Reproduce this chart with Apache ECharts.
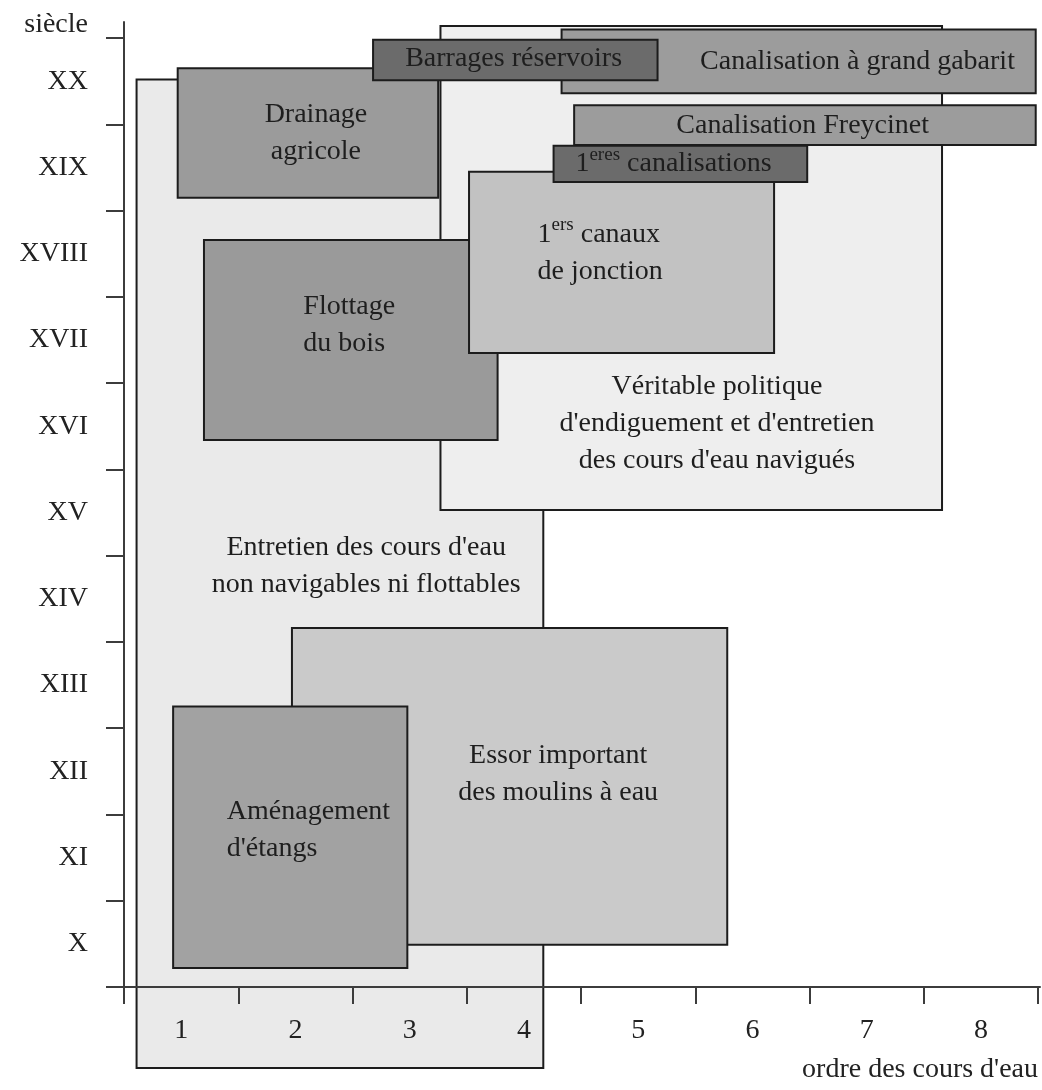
<!DOCTYPE html>
<html>
<head>
<meta charset="utf-8">
<script src="https://cdn.jsdelivr.net/npm/echarts@6/dist/echarts.min.js"></script>
<style>
  html, body { margin: 0; padding: 0; background: #fff; }
  #chart { width: 1042px; height: 1090px; }
</style>
</head>
<body>
<div id="chart"></div>
<script>
// axes
var ordres = [1, 2, 3, 4, 5, 6, 7, 8]
var siecles = ['X', 'XI', 'XII', 'XIII', 'XIV', 'XV', 'XVI', 'XVII', 'XVIII', 'XIX', 'XX']

// boxes, drawn in this order (last one on top)
var activites = [
  'Entretien des cours d\'eau\nnon navigables ni flottables',
  'Véritable politique\nd\'endiguement et d\'entretien\ndes cours d\'eau navigués',
  'Drainage\nagricole',
  'Flottage\ndu bois',
  '1{s|ers} canaux\nde jonction',
  '1{s|eres} canalisations',
  'Canalisation Freycinet',
  'Canalisation à grand gabarit',
  'Barrages réservoirs',
  'Essor important\ndes moulins à eau',
  'Aménagement\nd\'étangs'
]
var ordreDebut = [0.61, 3.27, 0.97, 1.20, 3.52, 4.26, 4.44, 4.33, 2.68, 1.97, 0.93]
var ordreFin = [4.17, 7.66, 3.25, 3.77, 6.19, 6.48, 8.48, 8.48, 5.17, 5.78, 2.98]
var anneeDebut = [806, 1453, 1815, 1534, 1635, 1833, 1876, 1936, 1951, 949, 922]
var anneeFin = [1952, 2014, 1965, 1766, 1845, 1875, 1922, 2010, 1998, 1316, 1225]
// where each text sits
var texteOrdre = [2.62, 5.69, 2.18, 2.07, 4.12, 5.31, 6.44, 6.92, 3.91, 4.30, 1.40]
var texteAnnee = [1388, 1553, 1890, 1667, 1751, 1854, 1899, 1973, 1976, 1147, 1082]

// styles
var fills = ['#eaeaea', '#eeeeee', '#9b9b9b', '#9a9a9a', '#c2c2c2', '#6b6b6b',
  '#9c9c9c', '#9c9c9c', '#6b6b6b', '#cacaca', '#a2a2a2']
var aligns = ['center', 'center', 'center', 'left', 'left', 'center',
  'center', 'center', 'center', 'center', 'left']
var FONT = '"Liberation Serif", "DejaVu Serif", serif'

// pixel frame of the axes
var gridLeft = 107
var gridRight = 1040
var gridTop = 22
var gridBottom = 1002
var pxOrdre05 = 124
var pxPerOrdre = 114.25
var py900 = 987
var pxPerYear = 0.8627

var xMin = 0.5 - (pxOrdre05 - gridLeft) / pxPerOrdre
var xMax = 0.5 + (gridRight - pxOrdre05) / pxPerOrdre
var yMin = 900 - (gridBottom - py900) / pxPerYear
var yMax = 900 + (py900 - gridTop) / pxPerYear

var data = activites.map(function (name, i) {
  return {
    name: name,
    value: [ordreDebut[i], ordreFin[i], anneeDebut[i], anneeFin[i], texteOrdre[i], texteAnnee[i]]
  }
})

function renderItem (params, api) {
  var i = params.dataIndex
  var p0 = api.coord([api.value(0), api.value(3)])
  var p1 = api.coord([api.value(1), api.value(2)])
  var pt = api.coord([api.value(4), api.value(5)])
  return {
    type: 'group',
    children: [
      {
        type: 'rect',
        shape: { x: p0[0], y: p0[1], width: p1[0] - p0[0], height: p1[1] - p0[1] },
        style: { fill: fills[i], stroke: '#1c1c1c', lineWidth: 2 }
      },
      {
        type: 'text',
        x: pt[0],
        y: pt[1],
        style: {
          text: activites[i],
          fill: '#1e1e1e',
          font: '28px ' + FONT,
          align: aligns[i],
          verticalAlign: 'middle',
          lineHeight: 37,
          rich: {
            s: { fontSize: 19, fontFamily: FONT, fill: '#1e1e1e', verticalAlign: 'top', lineHeight: 16 }
          }
        }
      }
    ]
  }
}

var axisColor = '#3c3c3c'
var chart = echarts.init(document.getElementById('chart'))
chart.setOption({
  animation: false,
  backgroundColor: '#ffffff',
  grid: {
    left: gridLeft,
    top: gridTop,
    width: gridRight - gridLeft,
    height: gridBottom - gridTop,
    containLabel: false,
    outerBoundsMode: 'none'
  },
  xAxis: {
    type: 'value',
    min: xMin,
    max: xMax,
    offset: -(gridBottom - py900),
    z: 10,
    name: 'ordre des cours d\'eau',
    nameLocation: 'end',
    nameGap: -2,
    nameTextStyle: {
      fontFamily: FONT,
      fontSize: 28,
      color: '#222',
      align: 'right',
      verticalAlign: 'top',
      padding: [69, 0, 0, 0]
    },
    axisLine: { onZero: false, lineStyle: { color: axisColor, width: 2 } },
    axisTick: {
      inside: false,
      length: 17,
      lineStyle: { color: axisColor, width: 2 },
      customValues: [0.5, 1.5, 2.5, 3.5, 4.5, 5.5, 6.5, 7.5, 8.5]
    },
    axisLabel: {
      customValues: ordres,
      margin: 30,
      fontFamily: FONT,
      fontSize: 28,
      color: '#222'
    },
    splitLine: { show: false }
  },
  yAxis: {
    type: 'value',
    min: yMin,
    max: yMax,
    offset: -(pxOrdre05 - gridLeft),
    z: 10,
    name: 'siècle',
    nameLocation: 'end',
    nameGap: -3,
    nameTextStyle: {
      fontFamily: FONT,
      fontSize: 28,
      color: '#222',
      align: 'right',
      verticalAlign: 'middle',
      padding: [0, 36, 0, 0]
    },
    axisLine: { onZero: false, lineStyle: { color: axisColor, width: 2 } },
    axisTick: {
      inside: false,
      length: 18,
      lineStyle: { color: axisColor, width: 2 },
      customValues: siecles.map(function (s, i) { return 900 + i * 100 }).concat([2000])
    },
    axisLabel: {
      customValues: siecles.map(function (s, i) { return 950 + i * 100 }),
      formatter: function (v) { return siecles[Math.round((v - 950) / 100)] },
      margin: 36,
      fontFamily: FONT,
      fontSize: 28,
      color: '#222'
    },
    splitLine: { show: false }
  },
  series: [{
    type: 'custom',
    renderItem: renderItem,
    clip: false,
    encode: { x: [0, 1], y: [2, 3] },
    data: data
  }]
})
</script>
</body>
</html>
